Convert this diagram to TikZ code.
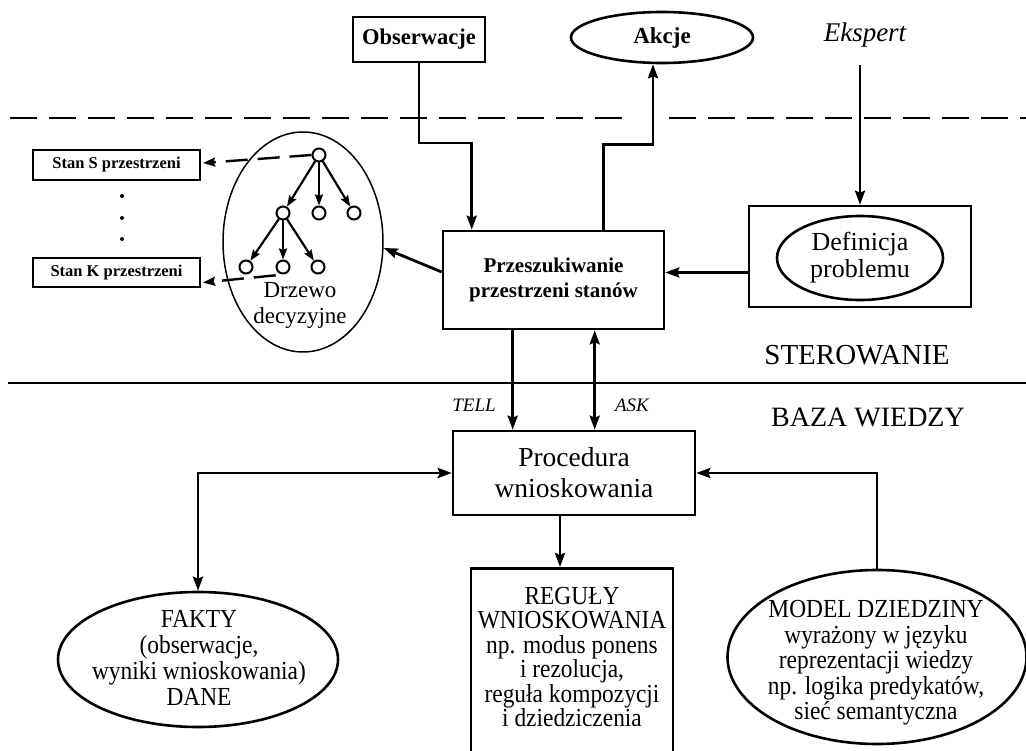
\documentclass[tikz,border=0pt]{standalone}
\usepackage{fontspec}
\setmainfont{Liberation Serif}
\newfontfamily\condfont[FakeStretch=0.9]{Liberation Serif}
\usetikzlibrary{arrows.meta,shapes.geometric,calc}
\newcommand{\fs}[2]{\fontsize{#1}{#2}\selectfont}
\begin{document}
\begin{tikzpicture}[x=1pt,y=-1pt,
  box/.style={draw, line width=2.6pt, inner sep=0pt, align=center},
  oval/.style={draw, ellipse, line width=2.6pt, inner sep=0pt, align=center},
  tip/.style={-{Stealth[length=14pt,width=10pt,inset=2pt]}},
  link/.style={line width=2.8pt, tip},
  twoway/.style={line width=2.8pt, {Stealth[length=14pt,width=10pt,inset=2pt]}-{Stealth[length=14pt,width=10pt,inset=2pt]}},
  tnode/.style={draw, circle, line width=2pt, minimum size=13pt, inner sep=0pt, fill=white},
  tedge/.style={line width=2.2pt, -{Stealth[length=11pt,width=8pt,inset=1.5pt]}},
  dlink/.style={line width=2.4pt, dash pattern=on 22pt off 10pt, -{Stealth[length=12pt,width=9pt,inset=1.5pt]}},
  border/.style={line width=2.8pt, dash pattern=on 27pt off 12pt},
  dot/.style={circle, fill=black, minimum size=4pt, inner sep=0pt},
  kbtext/.style={align=center, inner sep=0pt, font=\condfont\fs{26}{24.5}}]
\useasboundingbox (0,0) rectangle (1026,751);

% upper region: sensors, effectors, expert
\node[box, minimum width=132pt, minimum height=45pt, font=\fs{22.5}{24}\bfseries] (obs) at (419,39.5) {Obserwacje};
\node[oval, minimum width=182pt, minimum height=51pt, font=\fs{23}{24}\bfseries] (akc) at (662,37.5) {Akcje};
\node[font=\fs{27}{28}\itshape] (eks) at (865,35) {Ekspert};

% environment border
\draw[border] (10,118) -- (629,118);
\draw[border] (669,118) -- (1026,118);

% control layer
\node[box, minimum width=221pt, minimum height=98pt, font=\fs{21}{25}\bfseries] (prz) at (553.5,280) {Przeszukiwanie\\przestrzeni stanów};
\node[box, minimum width=222pt, minimum height=101pt] (def) at (860,256.5) {};
\node[oval, minimum width=166pt, minimum height=84pt, font=\fs{26}{27}] (defin) at (860,258) {Definicja\\problemu};

% decision tree
\node[draw, ellipse, line width=1.5pt, minimum width=160pt, minimum height=220pt, inner sep=0pt] (dt) at (303,242) {};
\node[font=\fs{23}{26}, align=center] (dttxt) at (300,305) {Drzewo\\decyzyjne};
\node[tnode] (t0) at (319,155) {};
\node[tnode] (t1) at (283,213) {};
\node[tnode] (t2) at (319,213) {};
\node[tnode] (t3) at (354,213) {};
\node[tnode] (t4) at (246,267) {};
\node[tnode] (t5) at (283,267) {};
\node[tnode] (t6) at (318,267) {};
\foreach \a/\b in {t0/t1,t0/t2,t0/t3,t1/t4,t1/t5,t1/t6}
  \draw[tedge] (\a) -- (\b);

% state space
\node[box, line width=2.2pt, minimum width=167pt, minimum height=30pt, font=\fs{16.5}{18}\bfseries] (stS) at (116.5,165) {Stan S przestrzeni};
\node[box, line width=2.2pt, minimum width=167pt, minimum height=29pt, font=\fs{16.5}{18}\bfseries] (stK) at (116.5,272.5) {Stan K przestrzeni};
\node[dot] (d1) at (122,196) {};
\node[dot] (d2) at (122,218) {};
\node[dot] (d3) at (122,239) {};
\draw[dlink] (t0.west) -- ($(stS.east)+(2,-2)$);
\coordinate (kstart) at ($(t5.south west)+(-2,3)$);
\draw[dlink] (kstart) -- ($(stK.east)+(2,10)$);

% layer labels and separator
\node[font=\fs{29}{30}] (ster) at (857,355) {STEROWANIE};
\draw[line width=2.2pt] (8,383) -- (1026,383);
\node[font=\fs{28}{30}] (baza) at (868,417) {BAZA WIEDZY};

% knowledge base
\node[box, minimum width=242pt, minimum height=84pt, font=\fs{27.5}{31}] (proc) at (574,473) {Procedura\\wnioskowania};
\node[draw, line width=2.6pt, minimum width=202pt, minimum height=200pt, anchor=north, inner sep=0pt] (reg) at (572,567) {};
\node[kbtext, anchor=north] (regtxt) at ($(reg.north)+(0,20)$) {REGUŁY\\WNIOSKOWANIA\\np. modus ponens\\i rezolucja,\\reguła kompozycji\\i dziedziczenia};
\node[oval, minimum width=280pt, minimum height=135pt] (fak) at (198,659.5) {};
\node[kbtext, font=\condfont\fs{26}{26}] (faktxt) at (199,658) {FAKTY\\(obserwacje,\\wyniki wnioskowania)\\DANE};
\node[oval, minimum width=299pt, minimum height=174pt] (mod) at (877,657) {};
\node[kbtext, font=\condfont\fs{26}{25.5}] (modtxt) at (876,663) {MODEL DZIEDZINY\\wyrażony w języku\\reprezentacji wiedzy\\np. logika predykatów,\\sieć semantyczna};

% connectors
\coordinate (obsjog) at (419,143);
\draw[link] (obs.south) -- (obsjog) -| ($(prz.north west)+(30,0)$);
\coordinate (akin) at ($(akc.south)+(-9,0)$);
\draw[link] ($(prz.north west)+(162,0)$) |- ($(akin)+(0,80)$) -- (akin);
\coordinate (ekstail) at (860,65);
\draw[link] (ekstail) -- (def.north);
\draw[link] ($(def.west)+(0,16)$) -- ($(def.west -| prz.east)+(0,16)$);
\draw[link] ($(prz.west)+(0,-8)$) -- ($(dt.east)+(0,6)$);
\draw[link] ($(prz.south west)+(71,0)$) -- ($(proc.north west)+(61,0)$);
\draw[twoway] ($(prz.south west)+(153,0)$) -- ($(proc.north west)+(143,0)$);
\node[font=\fs{19}{21}\itshape] (tell) at (474,405) {TELL};
\node[font=\fs{19}{21}\itshape] (ask) at (632,405) {ASK};
\draw[link] ($(proc.south)+(-14,0)$) -- ($(reg.north)+(-12,0)$);
\draw[twoway] (fak.north) |- (proc.west);
\draw[link] (mod.north) |- (proc.east);
\end{tikzpicture}
\end{document}
